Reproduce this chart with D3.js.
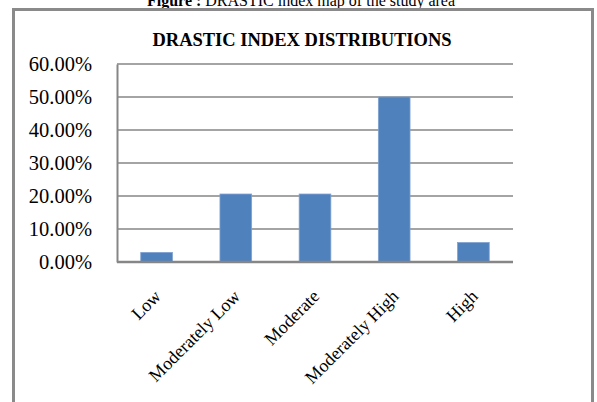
<!DOCTYPE html>
<html>
<head>
<meta charset="utf-8">
<script src="https://cdn.jsdelivr.net/npm/d3@7/dist/d3.min.js"></script>
<style>
  html, body { margin: 0; padding: 0; background: #fff; }
  svg { display: block; }
</style>
</head>
<body>
<script>
// Share of area in each DRASTIC vulnerability class
const categories = ["Low", "Moderately Low", "Moderate", "Moderately High", "High"];
const shares = [0.029, 0.206, 0.206, 0.50, 0.059];
const yTicks = [0, 0.1, 0.2, 0.3, 0.4, 0.5, 0.6];
const chartTitle = "DRASTIC INDEX DISTRIBUTIONS";
const captionLead = "Figure :";
const captionText = " DRASTIC index map of the study area";

const W = 597, H = 402;
const plot = { left: 117, right: 513, top: 64, bottom: 262 };
const serif = "'Liberation Serif', 'Times New Roman', serif";

const svg = d3.select("body").append("svg")
  .attr("width", W).attr("height", H);

// caption above the frame (runs off the top edge)
const cap = svg.append("text")
  .attr("x", 301).attr("y", 6)
  .attr("text-anchor", "middle")
  .attr("font-family", serif)
  .attr("font-size", 16)
  .attr("fill", "#000");
cap.append("tspan").attr("font-weight", "bold").text(captionLead);
cap.append("tspan").text(captionText);

// frame
svg.append("rect")
  .attr("x", 13.5).attr("y", 9.5)
  .attr("width", 579).attr("height", 420)
  .attr("fill", "#fff")
  .attr("stroke", "#8a8a8a")
  .attr("stroke-width", 3);

svg.append("text")
  .attr("x", 302).attr("y", 46)
  .attr("text-anchor", "middle")
  .attr("font-family", serif)
  .attr("font-weight", "bold")
  .attr("font-size", 18.5)
  .text(chartTitle);

const x = d3.scaleBand()
  .domain(categories)
  .range([plot.left, plot.right])
  .paddingInner(0.6)
  .paddingOuter(0.3);

const y = d3.scaleLinear()
  .domain([0, 0.6])
  .range([plot.bottom, plot.top]);

// gridlines
svg.append("g")
  .selectAll("line")
  .data(yTicks.filter(d => d > 0))
  .join("line")
  .attr("x1", plot.left).attr("x2", plot.right)
  .attr("y1", d => y(d)).attr("y2", d => y(d))
  .attr("stroke", "#868686")
  .attr("stroke-width", 1.5);

// bars
svg.append("g")
  .selectAll("rect")
  .data(categories.map((c, i) => ({ c, v: shares[i] })))
  .join("rect")
  .attr("x", d => x(d.c))
  .attr("width", x.bandwidth())
  .attr("y", d => y(d.v))
  .attr("height", d => y(0) - y(d.v))
  .attr("fill", "#4f81bd")
  .attr("stroke", "#7fa1cf")
  .attr("stroke-width", 0.8);

// y axis
const yAxis = svg.append("g")
  .attr("transform", `translate(${plot.left},0)`)
  .call(d3.axisLeft(y).tickValues(yTicks).tickSize(0).tickPadding(25)
    .tickFormat(d => (d * 100).toFixed(2) + "%"));
yAxis.select(".domain").attr("stroke", "#868686").attr("stroke-width", 2);
yAxis.selectAll("text")
  .attr("font-family", serif)
  .attr("font-size", 20.5)
  .attr("fill", "#000")
  .attr("dy", "0.32em");

// x axis
const xAxis = svg.append("g")
  .attr("transform", `translate(0,${plot.bottom})`)
  .call(d3.axisBottom(x).tickSize(0).tickFormat(d => d));
xAxis.select(".domain").attr("stroke", "#868686").attr("stroke-width", 2.5)
  .attr("d", `M${plot.left},0H${plot.right}`);
xAxis.selectAll("text")
  .attr("font-family", serif)
  .attr("font-size", 18)
  .attr("fill", "#000")
  .attr("text-anchor", "end")
  .attr("dy", "0.35em")
  .attr("transform", "translate(1,31) rotate(-45)")
  .attr("y", 0).attr("x", 0);
</script>
</body>
</html>
